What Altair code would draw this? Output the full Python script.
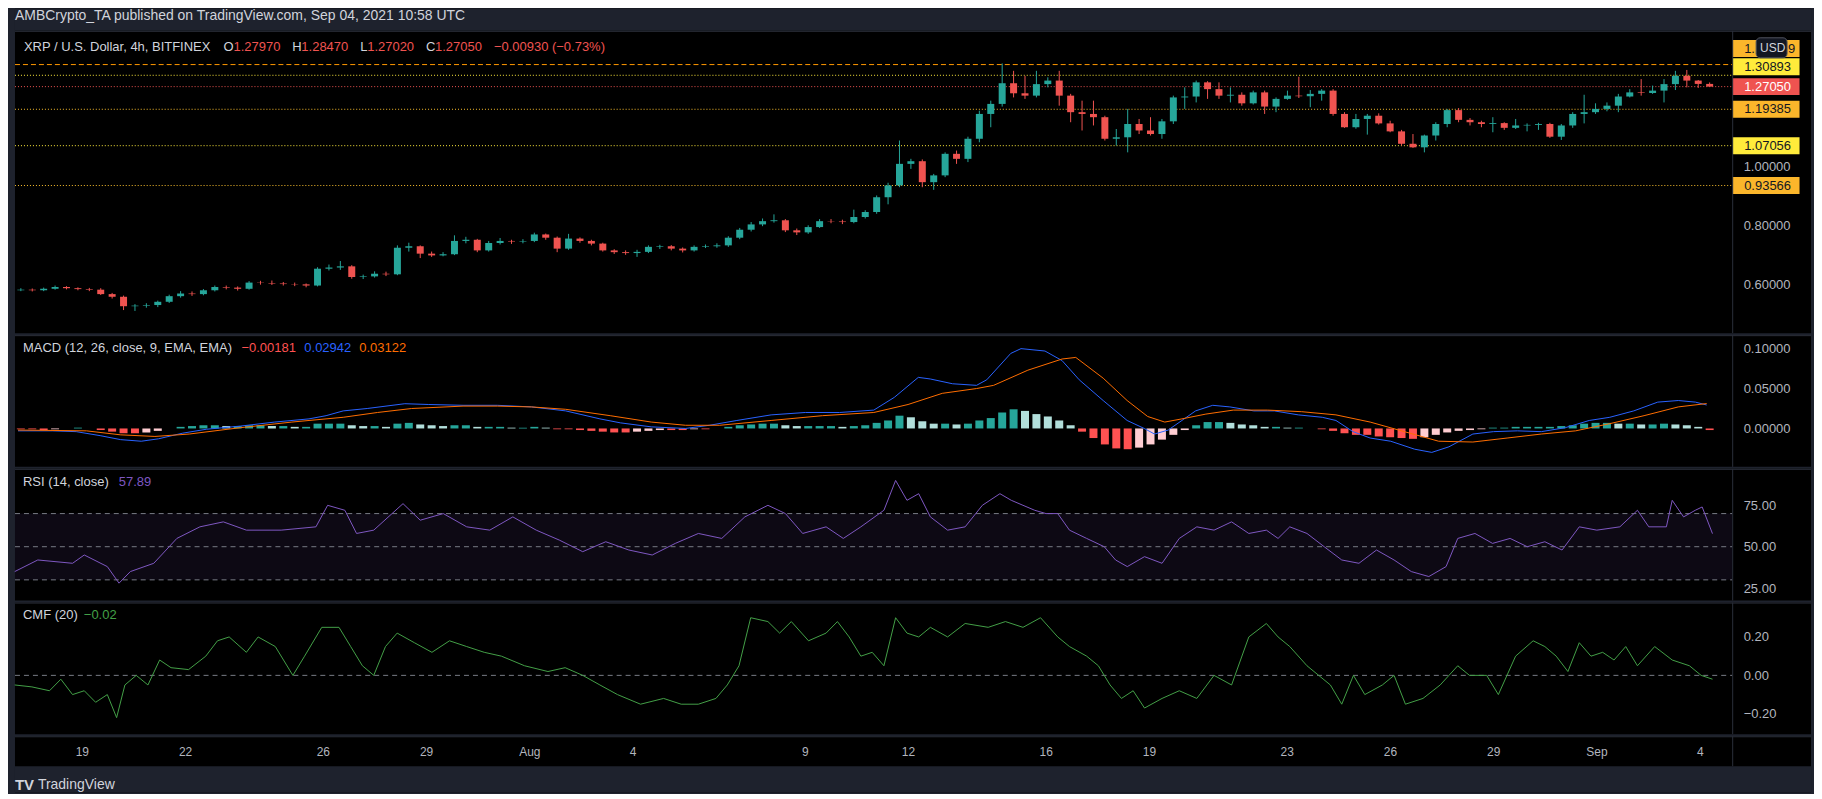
import altair as alt
import numpy as np
import pandas as pd

# ---------------------------------------------------------------- data
# 8-hour candles starting 17 Jul 2021 00:00 (read from the price pane)
opens = [0.581, 0.583, 0.581, 0.586, 0.592, 0.588, 0.585, 0.583, 0.568, 0.559,
         0.527, 0.529, 0.531, 0.542, 0.561, 0.570, 0.568, 0.581, 0.592, 0.590,
         0.586, 0.607, 0.606, 0.604, 0.602, 0.601, 0.597, 0.654, 0.658, 0.662,
         0.626, 0.628, 0.637, 0.635, 0.725, 0.730, 0.705, 0.699, 0.703, 0.748,
         0.752, 0.716, 0.741, 0.748, 0.746, 0.748, 0.770, 0.759, 0.722, 0.756,
         0.748, 0.739, 0.716, 0.710, 0.707, 0.711, 0.728, 0.730, 0.722, 0.716,
         0.728, 0.730, 0.733, 0.759, 0.786, 0.804, 0.815, 0.818, 0.784, 0.777,
         0.795, 0.815, 0.814, 0.812, 0.829, 0.846, 0.896, 0.936, 1.009, 1.018,
         0.947, 0.970, 1.043, 1.026, 1.094, 1.178, 1.212, 1.282, 1.248, 1.240,
         1.279, 1.291, 1.240, 1.184, 1.178, 1.167, 1.094, 1.099, 1.144, 1.122,
         1.110, 1.153, 1.234, 1.237, 1.285, 1.262, 1.240, 1.243, 1.214, 1.251,
         1.203, 1.229, 1.240, 1.238, 1.246, 1.257, 1.178, 1.133, 1.161, 1.172,
         1.146, 1.119, 1.077, 1.065, 1.105, 1.144, 1.191, 1.158, 1.150, 1.144,
         1.147, 1.131, 1.139, 1.141, 1.144, 1.101, 1.139, 1.178, 1.184, 1.195,
         1.206, 1.237, 1.251, 1.249, 1.257, 1.279, 1.307, 1.291, 1.2797]
highs = [0.588, 0.587, 0.590, 0.597, 0.595, 0.591, 0.589, 0.588, 0.572, 0.563,
         0.534, 0.537, 0.546, 0.566, 0.578, 0.577, 0.585, 0.597, 0.597, 0.594,
         0.612, 0.613, 0.614, 0.609, 0.607, 0.604, 0.659, 0.668, 0.680, 0.666,
         0.634, 0.645, 0.644, 0.733, 0.742, 0.733, 0.712, 0.710, 0.767, 0.762,
         0.755, 0.748, 0.758, 0.752, 0.754, 0.776, 0.773, 0.763, 0.772, 0.760,
         0.752, 0.742, 0.720, 0.716, 0.718, 0.733, 0.735, 0.734, 0.726, 0.733,
         0.736, 0.740, 0.764, 0.792, 0.812, 0.824, 0.838, 0.822, 0.790, 0.801,
         0.822, 0.822, 0.820, 0.854, 0.852, 0.902, 0.945, 1.088, 1.026, 1.024,
         0.975, 1.048, 1.054, 1.101, 1.189, 1.223, 1.349, 1.324, 1.307, 1.324,
         1.302, 1.324, 1.246, 1.223, 1.223, 1.172, 1.127, 1.195, 1.161, 1.167,
         1.161, 1.240, 1.268, 1.291, 1.289, 1.285, 1.268, 1.251, 1.257, 1.257,
         1.234, 1.257, 1.304, 1.259, 1.262, 1.262, 1.184, 1.178, 1.178, 1.180,
         1.155, 1.124, 1.110, 1.108, 1.150, 1.195, 1.198, 1.164, 1.155, 1.167,
         1.150, 1.161, 1.146, 1.148, 1.148, 1.144, 1.184, 1.243, 1.214, 1.217,
         1.246, 1.262, 1.296, 1.274, 1.296, 1.324, 1.327, 1.293, 1.2847]
lows = [0.578, 0.577, 0.578, 0.583, 0.584, 0.581, 0.578, 0.565, 0.553, 0.514,
        0.511, 0.522, 0.524, 0.538, 0.556, 0.562, 0.564, 0.577, 0.584, 0.580,
        0.583, 0.600, 0.599, 0.597, 0.595, 0.591, 0.594, 0.648, 0.650, 0.620,
        0.619, 0.624, 0.629, 0.632, 0.712, 0.690, 0.694, 0.696, 0.700, 0.740,
        0.710, 0.712, 0.736, 0.738, 0.740, 0.744, 0.752, 0.710, 0.718, 0.742,
        0.733, 0.712, 0.704, 0.701, 0.694, 0.707, 0.721, 0.716, 0.709, 0.712,
        0.724, 0.725, 0.728, 0.754, 0.780, 0.798, 0.810, 0.778, 0.768, 0.772,
        0.792, 0.808, 0.805, 0.808, 0.824, 0.840, 0.872, 0.930, 0.992, 0.930,
        0.921, 0.964, 1.009, 1.015, 1.082, 1.133, 1.203, 1.234, 1.229, 1.234,
        1.268, 1.206, 1.150, 1.122, 1.139, 1.088, 1.071, 1.048, 1.110, 1.105,
        1.094, 1.144, 1.195, 1.217, 1.229, 1.229, 1.217, 1.206, 1.210, 1.178,
        1.184, 1.226, 1.232, 1.201, 1.223, 1.172, 1.131, 1.128, 1.108, 1.142,
        1.116, 1.071, 1.063, 1.048, 1.088, 1.133, 1.150, 1.139, 1.133, 1.116,
        1.124, 1.127, 1.119, 1.124, 1.097, 1.090, 1.131, 1.146, 1.178, 1.187,
        1.184, 1.234, 1.240, 1.246, 1.217, 1.259, 1.268, 1.266, 1.2702]
closes = [0.583, 0.581, 0.586, 0.592, 0.588, 0.585, 0.583, 0.568, 0.559, 0.527,
          0.529, 0.531, 0.542, 0.561, 0.570, 0.568, 0.581, 0.592, 0.590, 0.586,
          0.607, 0.606, 0.604, 0.602, 0.601, 0.597, 0.654, 0.658, 0.662, 0.626,
          0.628, 0.637, 0.635, 0.725, 0.730, 0.705, 0.699, 0.703, 0.748, 0.752,
          0.716, 0.741, 0.748, 0.746, 0.748, 0.770, 0.759, 0.722, 0.756, 0.748,
          0.739, 0.716, 0.710, 0.707, 0.711, 0.728, 0.730, 0.722, 0.716, 0.728,
          0.730, 0.733, 0.759, 0.786, 0.804, 0.815, 0.818, 0.784, 0.777, 0.795,
          0.815, 0.814, 0.812, 0.829, 0.846, 0.896, 0.936, 1.009, 1.018, 0.947,
          0.970, 1.043, 1.026, 1.094, 1.178, 1.212, 1.282, 1.248, 1.240, 1.279,
          1.291, 1.240, 1.184, 1.178, 1.167, 1.094, 1.099, 1.144, 1.122, 1.110,
          1.153, 1.234, 1.237, 1.285, 1.262, 1.240, 1.243, 1.214, 1.251, 1.203,
          1.229, 1.240, 1.238, 1.246, 1.257, 1.178, 1.133, 1.161, 1.172, 1.146,
          1.119, 1.077, 1.065, 1.105, 1.144, 1.191, 1.158, 1.150, 1.144, 1.147,
          1.131, 1.139, 1.141, 1.144, 1.101, 1.139, 1.178, 1.184, 1.195, 1.206,
          1.237, 1.251, 1.249, 1.257, 1.279, 1.307, 1.291, 1.2797, 1.2705]

# MACD histogram, one bar per 8-hour candle
macd_hist = [-0.001, -0.001, -0.002, -0.001, 0.000, 0.001, 0.000,
             -0.002, -0.004, -0.006, -0.006, -0.005, -0.003,
             0.000, 0.002, 0.003, 0.004, 0.004, 0.003,
             0.003, 0.004, 0.004, 0.003, 0.003, 0.002, 0.002, 0.006,
             0.006, 0.006, 0.004, 0.003, 0.003, 0.002, 0.006,
             0.007, 0.005, 0.004, 0.003, 0.004, 0.004,
             0.002, 0.002, 0.002, 0.001, 0.001, 0.002,
             0.001, -0.001, -0.001, -0.002, -0.003, -0.004,
             -0.005, -0.005, -0.004, -0.003, -0.002, -0.002,
             -0.002, -0.001, -0.001, 0.000, 0.002, 0.004,
             0.005, 0.006, 0.006, 0.004, 0.003, 0.003,
             0.003, 0.003, 0.002, 0.003, 0.004, 0.007,
             0.010, 0.016, 0.014, 0.009, 0.006, 0.006,
             0.005, 0.006, 0.010, 0.013, 0.020, 0.024,
             0.022, 0.018, 0.015, 0.010, 0.004, -0.004,
             -0.012, -0.020, -0.025, -0.026, -0.024, -0.020,
             -0.014, -0.008, -0.002, 0.004, 0.008, 0.008,
             0.007, 0.005, 0.004, 0.002, 0.002, 0.001,
             0.001, 0.000, -0.001, -0.003, -0.006, -0.008,
             -0.008, -0.010, -0.011, -0.012, -0.013, -0.011,
             -0.008, -0.005, -0.003, -0.002, -0.001, 0.001,
             0.001, 0.002, 0.002, 0.002, 0.002, 0.003,
             0.004, 0.006, 0.007, 0.007, 0.006, 0.006,
             0.005, 0.005, 0.006, 0.005, 0.004, 0.002, -0.002]

# MACD line / signal line (days after 17 Jul 2021 00:00, value)
macd_day = [0, 1, 1.7, 2.4, 3.0, 3.6, 4.1, 4.8, 5.5, 6.5, 7.5, 8.5, 9.0, 9.5, 10.2,
            11.3, 12, 13, 14, 15, 16, 17, 17.6, 18.5, 19.5, 20.2, 21, 22, 23, 24,
            25, 25.6, 26.3, 26.65, 27.3, 28, 28.3, 29, 29.3, 30, 30.5, 31, 31.7,
            32.4, 32.9, 33.2, 33.6, 34, 34.4, 34.9, 35.4, 36.1, 36.7, 37.4, 38.1,
            38.5, 39, 39.5, 40.1, 40.8, 41.3, 41.8, 42.5, 43.1, 43.8, 44.5, 45.2,
            45.9, 46.5, 47.2, 47.9, 48.5, 49, 49.33]
macd_line = [-0.003, -0.003, -0.004, -0.009, -0.014, -0.016, -0.013, -0.006, -0.001,
             0.003, 0.008, 0.012, 0.016, 0.022, 0.025, 0.031, 0.030, 0.029, 0.029,
             0.027, 0.022, 0.012, 0.007, 0.002, 0.000, 0.004, 0.010, 0.017, 0.020,
             0.020, 0.023, 0.039, 0.064, 0.062, 0.056, 0.054, 0.061, 0.094, 0.100,
             0.097, 0.085, 0.061, 0.035, 0.010, 0.000, -0.007, -0.002, 0.010, 0.022,
             0.029, 0.027, 0.022, 0.022, 0.017, 0.014, 0.010, -0.004, -0.012, -0.016,
             -0.026, -0.030, -0.023, -0.007, -0.004, -0.003, -0.004, 0.001, 0.010,
             0.014, 0.022, 0.033, 0.035, 0.033, 0.0294]
signal_day = [0, 2, 3, 4, 5, 6.5, 8, 9.5, 10.5, 11.5, 13, 14, 15, 16, 17.3, 18.5, 19.5,
              20.5, 22, 23.5, 25, 26, 27, 28, 28.5, 29.5, 30.5, 30.9, 31.7, 32.4, 33,
              33.5, 34, 34.7, 35.5, 36.5, 37.5, 38.5, 39.5, 40.5, 41.5, 42.5, 43.5,
              44.5, 45.5, 46.5, 47.5, 48.5, 49.33]
signal_line = [-0.002, -0.003, -0.008, -0.010, -0.007, 0.001, 0.008, 0.014, 0.020,
               0.025, 0.028, 0.028, 0.027, 0.024, 0.016, 0.008, 0.004, 0.004, 0.010,
               0.016, 0.020, 0.030, 0.044, 0.050, 0.054, 0.073, 0.087, 0.089, 0.063,
               0.035, 0.015, 0.008, 0.012, 0.018, 0.023, 0.023, 0.021, 0.017, 0.008,
               -0.004, -0.016, -0.017, -0.012, -0.007, -0.003, 0.006, 0.016, 0.027,
               0.0312]

# RSI (14)
rsi_day = [0.05, 0.72, 1.73, 2.07, 2.74, 3.08, 3.41, 4.09, 4.76, 5.43, 6.11, 6.78, 7.79,
           8.8, 9.14, 9.64, 9.98, 10.48, 11.33, 11.83, 12.5, 13.18, 13.85, 14.52, 15.2,
           15.87, 16.55, 17.22, 17.89, 18.57, 19.24, 19.91, 20.59, 21.26, 21.93, 22.44,
           22.94, 23.62, 24.12, 24.63, 25.3, 25.64, 25.97, 26.31, 26.65, 27.15, 27.66,
           28.16, 28.67, 29.0, 29.34, 29.68, 30.01, 30.35, 30.69, 31.19, 31.7, 32.03,
           32.37, 32.87, 33.38, 33.88, 34.39, 34.89, 35.4, 35.9, 36.41, 36.75, 37.09,
           37.59, 38.09, 38.6, 39.1, 39.61, 40.12, 40.62, 41.13, 41.63, 41.97, 42.47,
           42.98, 43.49, 43.99, 44.5, 45.0, 45.5, 46.01, 46.68, 47.19, 47.52, 48.03,
           48.2, 48.53, 48.87, 49.07, 49.37]
rsi_val = [35, 42, 40, 45, 38, 28, 35, 40, 55, 62, 65, 60, 60, 62, 75, 72, 58, 60, 76, 66,
           70, 62, 60, 68, 60, 54, 47, 53, 48, 45, 52, 58, 55, 68, 75, 70, 58, 62, 55, 62,
           72, 90, 78, 82, 68, 60, 62, 75, 82, 78, 75, 72, 70, 70, 60, 55, 50, 42, 38, 44,
           40, 55, 62, 60, 65, 58, 60, 55, 62, 58, 50, 42, 40, 48, 42, 35, 32, 38, 55, 58,
           52, 55, 50, 53, 48, 62, 60, 62, 72, 62, 62, 78, 68, 72, 74, 57.89]

# CMF (20)
cmf_day = [0.05, 0.55, 1.06, 1.39, 1.73, 2.07, 2.4, 2.74, 3.01, 3.25, 3.58, 3.92, 4.26,
           4.59, 5.1, 5.6, 5.94, 6.28, 6.78, 7.12, 7.62, 8.13, 8.47, 8.97, 9.47, 9.81,
           10.15, 10.48, 10.82, 11.16, 11.66, 12.17, 12.68, 13.18, 13.69, 14.19, 14.86,
           15.54, 16.04, 16.55, 17.05, 17.56, 18.23, 18.9, 19.41, 19.91, 20.42, 20.75,
           21.09, 21.43, 21.93, 22.27, 22.61, 23.11, 23.62, 23.95, 24.29, 24.63, 24.96,
           25.3, 25.64, 25.97, 26.31, 26.65, 27.15, 27.66, 28.33, 28.83, 29.34, 29.85,
           30.35, 30.69, 31.19, 31.53, 31.87, 32.2, 32.54, 32.87, 33.38, 33.88, 34.39,
           34.89, 35.4, 35.9, 36.41, 36.75, 37.09, 37.59, 37.93, 38.27, 38.6, 38.94,
           39.27, 39.78, 40.12, 40.45, 40.96, 41.46, 41.97, 42.31, 42.81, 43.15, 43.65,
           44.16, 44.5, 44.83, 45.17, 45.5, 45.84, 46.18, 46.51, 46.85, 47.19, 47.69,
           48.2, 48.7, 49.04, 49.37]
cmf_val = [-0.05, -0.06, -0.08, -0.02, -0.10, -0.08, -0.14, -0.10, -0.22, -0.05,
           0.00, -0.05, 0.08, 0.04, 0.03, 0.10, 0.18, 0.20, 0.12, 0.20,
           0.15, 0.00, 0.10, 0.25, 0.25, 0.15, 0.05, 0.00, 0.15, 0.22,
           0.17, 0.12, 0.18, 0.15, 0.12, 0.10, 0.05, 0.02, 0.04, 0.00,
           -0.05, -0.10, -0.15, -0.12, -0.15, -0.15, -0.12, -0.05, 0.05, 0.30,
           0.28, 0.22, 0.28, 0.18, 0.22, 0.28, 0.20, 0.10, 0.12, 0.05,
           0.30, 0.22, 0.20, 0.25, 0.20, 0.27, 0.25, 0.28, 0.25, 0.30,
           0.20, 0.15, 0.10, 0.05, -0.05, -0.12, -0.08, -0.17, -0.12, -0.08,
           -0.12, 0.00, -0.05, 0.20, 0.27, 0.20, 0.15, 0.05, 0.00, -0.05,
           -0.15, 0.00, -0.10, -0.05, 0.00, -0.15, -0.12, -0.05, 0.05, 0.00,
           0.00, -0.10, 0.10, 0.18, 0.15, 0.10, 0.02, 0.17, 0.10, 0.12,
           0.08, 0.15, 0.05, 0.15, 0.08, 0.05, 0.00, -0.02]

# horizontal price levels drawn on the chart
level_prices = [1.34519, 1.30893, 1.27050, 1.19385, 1.07056, 0.93566]
level_labels = ["1.34519", "1.30893", "1.27050", "1.19385", "1.07056", "0.93566"]

price_ticks = [0.6, 0.8, 1.0]
macd_ticks = [0.0, 0.05, 0.10]
rsi_ticks = [25, 50, 75]
cmf_ticks = [-0.2, 0.0, 0.2]
rsi_bands = [70, 50, 30]
date_ticks = [("Jul", 19), ("Jul", 22), ("Jul", 26), ("Jul", 29), ("Aug", 1), ("Aug", 4),
              ("Aug", 9), ("Aug", 12), ("Aug", 16), ("Aug", 19), ("Aug", 23), ("Aug", 26),
              ("Aug", 29), ("Sep", 1), ("Sep", 4)]

publish_text = "AMBCrypto_TA published on TradingView.com, Sep 04, 2021 10:58 UTC"
price_hdr = ["XRP / U.S. Dollar, 4h, BITFINEX", "O", "1.27970", "H", "1.28470", "L",
             "1.27020", "C", "1.27050", "\u22120.00930 (\u22120.73%)"]
macd_hdr = ["MACD (12, 26, close, 9, EMA, EMA)", "\u22120.00181", "0.02942", "0.03122"]
rsi_hdr = ["RSI (14, close)", "57.89"]
cmf_hdr = ["CMF (20)", "\u22120.02"]

# ---------------------------------------------------------------- styles
FONT = "Liberation Sans"
BG = "#1e222d"
SEP = "#2a2e39"
AXT = "#b2b5be"
HDT = "#d1d4dc"
UP, DN = "#26a69a", "#ef5350"
W = 1800
SEPX = 1721
H_P, H_I, H_T = 325, 132, 56
TOP = 22

T0 = pd.Timestamp("2021-07-17 00:00:00")
xscale = alt.Scale(domain=[alt.DateTime(year=2021, month="Jul", date=17, hours=1, minutes=23),
                           alt.DateTime(year=2021, month="Sep", date=7, hours=5, minutes=34)])
X = alt.X("t:T", scale=xscale, axis=None)


def days_to_t(days):
    return T0 + pd.to_timedelta(np.array(days, dtype=float), unit="D")


one = pd.DataFrame({"a": [0]})


def vrule(y0, y1):
    return alt.Chart(one).mark_rule(color=SEP, strokeWidth=1).encode(
        x=alt.value(SEPX + 0.5), y=alt.value(y0), y2=alt.value(y1))


def hrule(y):
    return alt.Chart(one).mark_rule(color=SEP, strokeWidth=1).encode(
        x=alt.value(0), x2=alt.value(W), y=alt.value(y))


def texts(strs, xs, cols, y, size=13, weight="normal"):
    out = []
    for s, px, c in zip(strs, xs, cols):
        out.append(alt.Chart(pd.DataFrame({"s": [s]})).mark_text(
            align="left", baseline="middle", font=FONT, fontSize=size, color=c,
            fontWeight=weight).encode(x=alt.value(px), y=alt.value(y), text="s:N"))
    return out


def yaxis(vals, fmt):
    return alt.Axis(orient="right", offset=-(W - SEPX), values=vals, format=fmt,
                    labelColor=AXT, labelFont=FONT, labelFontSize=13, domain=False,
                    ticks=False, tickSize=0, grid=False, labelPadding=11, title=None,
                    labelBaseline="middle", labelAlign="left", labelFlush=False,
                    labelOverlap=False)


# ---------------------------------------------------------------- price pane
cdf = pd.DataFrame({"t": T0 + pd.to_timedelta([8 * i + 2 for i in range(len(closes))], unit="h"),
                    "o": opens, "h": highs, "l": lows, "c": closes})
cdf["col"] = np.where(cdf["c"] >= cdf["o"], UP, DN)
yP = alt.Scale(domain=[0.4358, 1.5338], zero=False, nice=False)
axP = yaxis(price_ticks, ".5f")

wicks = alt.Chart(cdf).mark_rule(strokeWidth=1).encode(
    x=X, y=alt.Y("l:Q", scale=yP, axis=axP), y2="h:Q",
    color=alt.Color("col:N", scale=None))
bodies = alt.Chart(cdf).mark_bar(size=7).encode(
    x=X, y=alt.Y("o:Q", scale=yP, axis=axP), y2="c:Q", color=alt.Color("col:N", scale=None))

line_cols = ["#ff9800", "#ffeb3b", "#ef5350", "#fbc02d", "#ffeb3b", "#fbc02d"]
box_cols = ["#fbb62b", "#ffeb3b", "#ef5350", "#fbb62b", "#ffeb3b", "#fbb62b"]
txt_cols = ["#131722", "#131722", "#ffffff", "#131722", "#131722", "#131722"]
dashes = [[5, 3], [1, 2], [1, 2], [1, 2], [1, 2], [1, 2]]
nudges = [-16, -8.6, 0, 0, 0, 0]
BOX = "M-1,-0.254L1,-0.254L1,0.254L-1,0.254Z"

level_layers, box_layers = [], []
for k, (p, lab, lc, bc, tc, dsh, nd) in enumerate(zip(level_prices, level_labels, line_cols,
                                                      box_cols, txt_cols, dashes, nudges)):
    ldf = pd.DataFrame({"p": [p], "s": [lab]})
    level_layers.append(alt.Chart(ldf).mark_rule(color=lc, strokeWidth=1, strokeDash=dsh).encode(
        y=alt.Y("p:Q", scale=yP, axis=axP), x=alt.value(0), x2=alt.value(SEPX)))
    box_layers.append(alt.Chart(ldf).mark_point(shape=BOX, size=4489, filled=True, color=bc,
                                                opacity=1, strokeWidth=0, yOffset=nd).encode(
        y=alt.Y("p:Q", scale=yP, axis=axP), x=alt.value(1755)))
    if k == 0:
        # the top label is mostly covered by the "USD" badge: only its ends show
        pieces = [(lab[:2], 1733), (lab[-1], 1777)]
    else:
        pieces = [(lab, 1733)]
    for s, px in pieces:
        box_layers.append(alt.Chart(pd.DataFrame({"p": [p], "s": [s]})).mark_text(
            align="left", baseline="middle", font=FONT, fontSize=13, color=tc,
            yOffset=nd).encode(y=alt.Y("p:Q", scale=yP, axis=axP), x=alt.value(px), text="s:N"))

usd_box = alt.Chart(one).mark_rect(fill="#131722", stroke="#50535e", strokeWidth=1,
                                   cornerRadius=4).encode(
    x=alt.value(1745), x2=alt.value(1776), y=alt.value(29), y2=alt.value(49))
usd_txt = texts(["USD"], [1749], [HDT], 39, size=12)

top_strip = alt.Chart(one).mark_rect(color=BG).encode(
    x=alt.value(0), x2=alt.value(W), y=alt.value(0), y2=alt.value(TOP))

hdr_cols = [HDT, HDT, DN, HDT, DN, HDT, DN, HDT, DN, DN]
price_pane = alt.layer(
    top_strip, *level_layers, wicks, bodies, *box_layers, usd_box, *usd_txt,
    *texts([publish_text], [0], [HDT], 7, size=14),
    *texts(price_hdr, [9, 209, 219, 278, 287, 346, 353, 412, 421, 480], hdr_cols, 38.5),
    hrule(TOP + 0.5), vrule(TOP, H_P),
).properties(width=W, height=H_P)

# ---------------------------------------------------------------- MACD pane
hdf = pd.DataFrame({"t": cdf["t"], "h": macd_hist})
prev = [0.0] + macd_hist[:-1]
hcol = []
for h, pv in zip(macd_hist, prev):
    if h >= 0:
        hcol.append("#26a69a" if h >= pv else "#b2dfdb")
    else:
        hcol.append("#ffcdd2" if h > pv else "#ff5252")
hdf["col"] = hcol
yM = alt.Scale(domain=[-0.0481, 0.1169], zero=False, nice=False)
axM = yaxis(macd_ticks, ".5f")
hist = alt.Chart(hdf).mark_bar(size=8).encode(
    x=X, y=alt.Y("h:Q", scale=yM, axis=axM), y2=alt.datum(0),
    color=alt.Color("col:N", scale=None))
mdf = pd.DataFrame({"t": days_to_t(macd_day), "v": macd_line})
sdf = pd.DataFrame({"t": days_to_t(signal_day), "v": signal_line})
mline = alt.Chart(mdf).mark_line(color="#2962ff", strokeWidth=1).encode(
    x=X, y=alt.Y("v:Q", scale=yM, axis=axM))
sline = alt.Chart(sdf).mark_line(color="#ff6d00", strokeWidth=1).encode(
    x=X, y=alt.Y("v:Q", scale=yM, axis=axM))
macd_pane = alt.layer(
    hist, mline, sline,
    *texts(macd_hdr, [8, 227, 290, 345], [HDT, "#ff5252", "#2962ff", "#ff6d00"], 13),
    hrule(0.5), vrule(0, H_I),
).properties(width=W, height=H_I)

# ---------------------------------------------------------------- RSI pane
yR = alt.Scale(domain=[17.5, 97.0], zero=False, nice=False)
axR = yaxis(rsi_ticks, ".2f")
band = alt.Chart(pd.DataFrame({"a": [rsi_bands[2]], "b": [rsi_bands[0]]})).mark_rect(
    color="#7e57c2", opacity=0.1).encode(
    x=alt.value(0), x2=alt.value(SEPX), y=alt.Y("a:Q", scale=yR, axis=axR), y2="b:Q")
bands = alt.Chart(pd.DataFrame({"v": rsi_bands})).mark_rule(
    color="#787b86", strokeWidth=1, strokeDash=[5, 4]).encode(
    y=alt.Y("v:Q", scale=yR, axis=axR), x=alt.value(0), x2=alt.value(SEPX))
rdf = pd.DataFrame({"t": days_to_t(rsi_day), "v": rsi_val})
rline = alt.Chart(rdf).mark_line(color="#7e57c2", strokeWidth=1).encode(
    x=X, y=alt.Y("v:Q", scale=yR, axis=axR))
rsi_pane = alt.layer(
    band, bands, rline,
    *texts(rsi_hdr, [8, 104], [HDT, "#7e57c2"], 13),
    hrule(0.5), vrule(0, H_I),
).properties(width=W, height=H_I)

# ---------------------------------------------------------------- CMF pane
yC = alt.Scale(domain=[-0.3065, 0.379], zero=False, nice=False)
axC = yaxis(cmf_ticks, ".2f")
zero = alt.Chart(pd.DataFrame({"v": [0.0]})).mark_rule(
    color="#787b86", strokeWidth=1, strokeDash=[5, 4]).encode(
    y=alt.Y("v:Q", scale=yC, axis=axC), x=alt.value(0), x2=alt.value(SEPX))
fdf = pd.DataFrame({"t": days_to_t(cmf_day), "v": cmf_val})
fline = alt.Chart(fdf).mark_line(color="#43a047", strokeWidth=1).encode(
    x=X, y=alt.Y("v:Q", scale=yC, axis=axC))
cmf_pane = alt.layer(
    zero, fline,
    *texts(cmf_hdr, [8, 69], [HDT, "#43a047"], 12),
    hrule(0.5), vrule(0, H_I),
).properties(width=W, height=H_I)

# ---------------------------------------------------------------- time axis pane
tick_vals = [alt.DateTime(year=2021, month=m, date=d) for m, d in date_ticks]
time_axis = alt.Axis(orient="bottom", offset=-H_T, values=tick_vals,
                     labelExpr="date(datum.value) == 1 ? timeFormat(datum.value, '%b') : timeFormat(datum.value, '%-d')",
                     labelColor=AXT, labelFont=FONT, labelFontSize=12, domain=False, ticks=False,
                     tickSize=0, grid=False, labelPadding=15, labelBaseline="middle", title=None,
                     labelFlush=False, labelOverlap=False)
ghost = alt.Chart(cdf).mark_point(opacity=0).encode(
    x=alt.X("t:T", scale=xscale, axis=time_axis), y=alt.value(10))
bottom_strip = alt.Chart(one).mark_rect(color=BG).encode(
    x=alt.value(0), x2=alt.value(W), y=alt.value(30), y2=alt.value(H_T))
time_pane = alt.layer(
    ghost, bottom_strip, hrule(0.5), vrule(0, 30),
    *texts(["TV"], [0], [HDT], 49, size=15, weight="bold"),
    *texts(["TradingView"], [23], [HDT], 49, size=14),
).properties(width=W, height=H_T)

chart = alt.vconcat(price_pane, macd_pane, rsi_pane, cmf_pane, time_pane, spacing=0).resolve_scale(
    x="independent", y="independent"
).properties(
    padding={"left": 4, "top": 0, "right": 2, "bottom": 0},
    background=BG,
).configure_view(
    fill="#000000", stroke="transparent", strokeWidth=0
).configure_concat(spacing=0)

chart.save("out.html", embed_options={"renderer": "svg", "actions": False})
